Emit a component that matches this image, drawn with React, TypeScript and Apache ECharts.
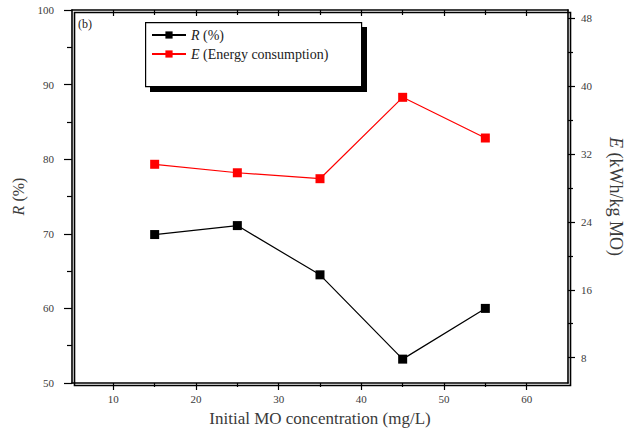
import React, { useEffect, useRef } from "react";
import * as echarts from "echarts";

// Initial MO concentration (mg/L)
const concentration = [15, 25, 35, 45, 55];
// Removal efficiency R (%)
const removal = [69.9, 71.1, 64.5, 53.2, 60.0];
// Energy consumption E (kWh/kg MO)
const energy = [30.8, 29.8, 29.1, 38.7, 33.9];

const xMajorTicks = [10, 20, 30, 40, 50, 60];
const xMinorTicks = [15, 25, 35, 45, 55];
const rightMajorTicks = [8, 16, 24, 32, 40, 48];
const rightMinorTicks = [12, 20, 28, 36, 44];

const FONT = "'Liberation Serif', 'DejaVu Serif', serif";
const LABEL_COLOR = "#3a3a3a";

const GRID = { left: 72, top: 10, width: 496, height: 373 };

export default function App() {
  const ref = useRef<HTMLDivElement>(null);

  useEffect(() => {
    if (!ref.current) return;
    const chart = echarts.init(ref.current, null, { renderer: "svg" });

    const axisLine = { show: true, onZero: false, lineStyle: { color: "#000", width: 1.6 } };
    const noLine = { show: false, onZero: false };
    const tickStyle = { color: "#000", width: 1.2 };
    const labelStyle = { color: LABEL_COLOR, fontFamily: FONT, fontSize: 11 };

    const xBase = {
      type: "value" as const,
      min: 5,
      max: 65,
      gridIndex: 0,
      splitLine: { show: false },
    };
    const yRight = {
      type: "value" as const,
      min: 5,
      max: 49,
      position: "right" as const,
      splitLine: { show: false },
    };

    const pairs = (ys: number[]) => concentration.map((x, i) => [x, ys[i]]);

    chart.setOption({
      animation: false,
      backgroundColor: "#fff",
      grid: { ...GRID, containLabel: false },
      xAxis: [
        {
          ...xBase,
          position: "bottom",
          axisLine,
          axisTick: { show: true, inside: false, length: 7, lineStyle: tickStyle, customValues: xMajorTicks },
          axisLabel: { ...labelStyle, margin: 10, customValues: xMajorTicks },
          name: "Initial MO concentration (mg/L)",
          nameLocation: "middle",
          nameGap: 27,
          nameTextStyle: { color: LABEL_COLOR, fontFamily: FONT, fontSize: 17 },
        },
        {
          ...xBase,
          position: "bottom",
          axisLine: noLine,
          axisTick: { show: true, inside: false, length: 4, lineStyle: tickStyle, customValues: xMinorTicks },
          axisLabel: { show: false },
        },
        {
          ...xBase,
          position: "top",
          axisLine,
          axisTick: { show: true, inside: true, length: 6, lineStyle: tickStyle, customValues: xMajorTicks },
          axisLabel: { show: false },
        },
        {
          ...xBase,
          position: "top",
          axisLine: noLine,
          axisTick: { show: true, inside: true, length: 5, lineStyle: tickStyle, customValues: xMinorTicks },
          axisLabel: { show: false },
        },
      ],
      yAxis: [
        {
          type: "value",
          min: 50,
          max: 100,
          interval: 10,
          position: "left",
          axisLine,
          axisTick: { show: true, inside: false, length: 8, lineStyle: tickStyle },
          minorTick: { show: true, splitNumber: 2, length: 5, lineStyle: tickStyle },
          splitLine: { show: false },
          axisLabel: { ...labelStyle, margin: 18 },
          name: "{i|R} (%)",
          nameLocation: "middle",
          nameGap: 40,
          nameRotate: 90,
          nameTextStyle: {
            color: LABEL_COLOR,
            fontFamily: FONT,
            fontSize: 16,
            rich: { i: { fontStyle: "italic", fontFamily: FONT, fontSize: 16, color: LABEL_COLOR } },
          },
        },
        {
          ...yRight,
          axisLine,
          axisTick: { show: true, inside: false, length: 7, lineStyle: tickStyle, customValues: rightMajorTicks },
          axisLabel: { ...labelStyle, margin: 13, customValues: rightMajorTicks },
          name: "{i|E} (kWh/kg MO)",
          nameLocation: "middle",
          nameGap: 39,
          nameRotate: -90,
          nameTextStyle: {
            color: LABEL_COLOR,
            fontFamily: FONT,
            fontSize: 18,
            rich: { i: { fontStyle: "italic", fontFamily: FONT, fontSize: 18, color: LABEL_COLOR } },
          },
        },
        {
          ...yRight,
          axisLine: noLine,
          axisTick: { show: true, inside: false, length: 5, lineStyle: tickStyle, customValues: rightMinorTicks },
          axisLabel: { show: false },
        },
      ],
      legend: {
        left: 151,
        top: 28,
        orient: "vertical",
        itemGap: 5,
        itemWidth: 34,
        itemHeight: 9,
        padding: 0,
        data: ["R", "E"],
        formatter: (name: string) =>
          name === "R" ? "{i|R} (%)" : "{i|E} (Energy consumption)",
        textStyle: {
          color: "#222",
          fontFamily: FONT,
          fontSize: 14,
          rich: { i: { fontStyle: "italic", fontFamily: FONT, fontSize: 14, color: "#222" } },
        },
        z: 10,
      },
      graphic: [
        // plot frame
        {
          type: "rect",
          left: GRID.left,
          top: GRID.top,
          shape: { width: GRID.width, height: GRID.height },
          style: { fill: "none", stroke: "#000", lineWidth: 1.6 },
          silent: true,
          z: 3,
        },
        // legend box with its drop shadow
        {
          type: "rect",
          left: 150,
          top: 27,
          shape: { width: 217, height: 65 },
          style: { fill: "#000" },
          z: 5,
        },
        {
          type: "rect",
          left: 145,
          top: 22,
          shape: { width: 216, height: 64 },
          style: { fill: "#fff", stroke: "#000", lineWidth: 1.2 },
          z: 6,
        },
        {
          type: "text",
          left: 78,
          top: 18,
          style: { text: "(b)", fill: "#222", font: `12px ${FONT}` },
          z: 6,
        },
      ],
      series: [
        {
          name: "R",
          type: "line",
          xAxisIndex: 0,
          yAxisIndex: 0,
          data: pairs(removal),
          symbol: "rect",
          symbolSize: 9,
          lineStyle: { color: "#000", width: 1.2 },
          itemStyle: { color: "#000" },
        },
        {
          name: "E",
          type: "line",
          xAxisIndex: 0,
          yAxisIndex: 1,
          data: pairs(energy),
          symbol: "rect",
          symbolSize: 9,
          lineStyle: { color: "#f00", width: 1.2 },
          itemStyle: { color: "#f00" },
        },
      ],
    });

    return () => chart.dispose();
  }, []);

  return (
    <div
      ref={ref}
      style={{ position: "fixed", left: 0, top: 0, width: 642, height: 439, background: "#fff" }}
    />
  );
}
